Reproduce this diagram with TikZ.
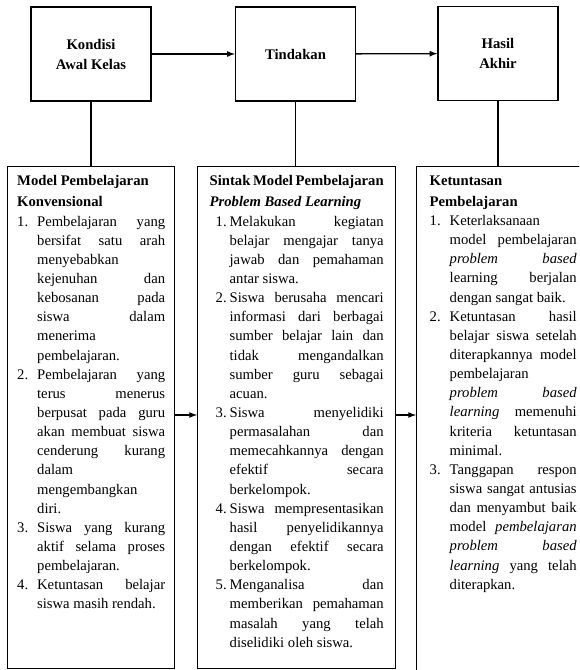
\documentclass[tikz,border=0pt]{standalone}
\usepackage{fontspec}
\setmainfont{Liberation Serif}
\hbadness=10000
\tikzstyle{kotak}=[draw=black,line width=1pt,minimum width=90pt,minimum height=70.5pt,align=center,inner sep=2pt,font=\fontsize{11}{15}\selectfont\bfseries]
\tikzstyle{isi}=[draw=black,line width=1pt,anchor=north west,inner ysep=6.75pt,font=\fontsize{11}{14.36}\selectfont]
\tikzstyle{garis}=[line width=1pt]
\tikzstyle{panah}=[line width=1pt,-latex]
\newcommand{\butir}[2][0pt]{\par\noindent\hangindent=15pt\hangafter=1\makebox[15pt][l]{\hspace*{#1}#2}}
\newcommand{\isikotak}[3]{\parbox[t][#2][t]{#1}{#3}}

\begin{document}
\begin{tikzpicture}[x=0.75pt,y=-0.75pt]
\useasboundingbox (0,0) rectangle (579,670);
\clip (0,0) rectangle (579,670);
\node[kotak] (awal) at (91,54) {Kondisi\\Awal Kelas};
\node[kotak] (tindakan) at (295.5,54) {Tindakan};
\node[kotak] (hasil) at (498,53.5) {Hasil\\Akhir};
\node[isi,inner xsep=7.125pt] (kotakA) at (7,166) {\isikotak{111pt}{363pt}{%
\textbf{Model Pembelajaran\\[1.4pt] Konvensional}
\butir{1.}Pembelajaran yang\linebreak
bersifat satu arah\linebreak
menyebabkan\linebreak
kejenuhan dan\linebreak
kebosanan pada\linebreak
siswa dalam\linebreak
menerima\linebreak
pembelajaran.
\butir{2.}Pembelajaran yang\linebreak
terus menerus\linebreak
berpusat pada guru\linebreak
akan membuat siswa\linebreak
cenderung kurang\linebreak
dalam\linebreak
mengembangkan\linebreak
diri.
\butir{3.}Siswa yang kurang\linebreak
aktif selama proses\linebreak
pembelajaran.
\butir{4.}Ketuntasan belajar\linebreak
siswa masih rendah.}};
\node[isi,inner xsep=9pt] (kotakB) at (197,166) {\isikotak{130.5pt}{363pt}{%
\textbf{Sintak Model Pembelajaran\\[1.4pt] \textit{Problem Based Learning}}
\butir[4.5pt]{1.}Melakukan kegiatan\linebreak
belajar mengajar tanya\linebreak
jawab dan pemahaman\linebreak
antar siswa.
\butir[4.5pt]{2.}Siswa berusaha mencari\linebreak
informasi dari berbagai\linebreak
sumber belajar lain dan\linebreak
tidak mengandalkan\linebreak
sumber guru sebagai\linebreak
acuan.
\butir[4.5pt]{3.}Siswa menyelidiki\linebreak
permasalahan dan\linebreak
memecahkannya dengan\linebreak
efektif secara\linebreak
berkelompok.
\butir[4.5pt]{4.}Siswa mempresentasikan\linebreak
hasil penyelidikannya\linebreak
dengan efektif secara\linebreak
berkelompok.
\butir[4.5pt]{5.}Menganalisa dan\linebreak
memberikan pemahaman\linebreak
masalah yang telah\linebreak
diselidiki oleh siswa.}};
\node[isi,inner xsep=9.75pt] (kotakC) at (416,166) {\isikotak{110.25pt}{390pt}{%
\textbf{Ketuntasan\\[1.4pt] Pembelajaran}
\butir{1.}Keterlaksanaan\linebreak
model pembelajaran\linebreak
\textit{problem based}\linebreak
learning berjalan\linebreak
dengan sangat baik.
\butir{2.}Ketuntasan hasil\linebreak
belajar siswa setelah\linebreak
diterapkannya model\linebreak
pembelajaran\linebreak
\textit{problem based}\linebreak
\textit{learning} memenuhi\linebreak
kriteria ketuntasan\linebreak
minimal.
\butir{3.}Tanggapan respon\linebreak
siswa sangat antusias\linebreak
dan menyambut baik\linebreak
model \textit{pembelajaran}\linebreak
\textit{problem based}\linebreak
\textit{learning} yang telah\linebreak
diterapkan.}};
\draw[panah] (awal) -- (tindakan);
\draw[panah] (tindakan) -- (hasil);
\draw[garis] (awal.south) -- (awal.south |- kotakA.north);
\draw[garis] (tindakan.south) -- (tindakan.south |- kotakB.north);
\draw[garis] (hasil.south) -- (hasil.south |- kotakC.north);
\coordinate (tengah) at (0,415);
\draw[panah] (kotakA.east |- tengah) -- (kotakB.west |- tengah);
\draw[panah] (kotakB.east |- tengah) -- (kotakC.west |- tengah);
\end{tikzpicture}
\end{document}
